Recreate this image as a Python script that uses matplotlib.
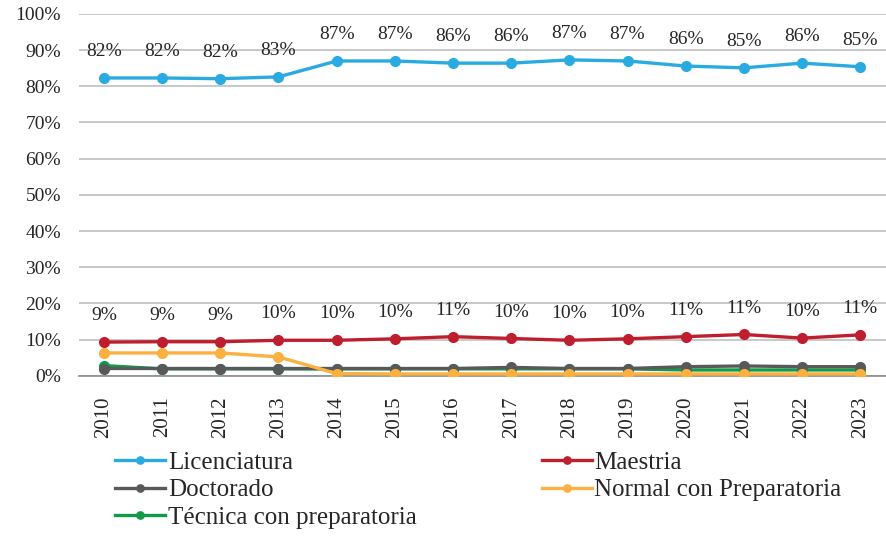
import matplotlib.pyplot as plt

plt.rcParams['font.family'] = ['Liberation Serif', 'DejaVu Serif']

years = ['2010', '2011', '2012', '2013', '2014', '2015', '2016',
         '2017', '2018', '2019', '2020', '2021', '2022', '2023']

licenciatura = [82.3, 82.3, 82.1, 82.6, 87.0, 87.0, 86.4, 86.4, 87.3, 87.0, 85.6, 85.1, 86.4, 85.4]
maestria = [9.3, 9.4, 9.4, 9.8, 9.8, 10.2, 10.8, 10.3, 9.8, 10.2, 10.8, 11.4, 10.4, 11.3]
doctorado = [2.0, 2.0, 2.0, 2.0, 2.0, 2.0, 2.0, 2.3, 2.0, 2.0, 2.5, 2.7, 2.5, 2.5]
normal = [6.3, 6.3, 6.3, 5.2, 0.6, 0.5, 0.5, 0.5, 0.5, 0.5, 0.5, 0.5, 0.5, 0.5]
tecnica = [2.8, 1.9, 1.9, 1.9, 1.9, 1.9, 1.9, 1.9, 1.9, 1.9, 1.6, 1.6, 1.6, 1.6]

c_lic = '#29abe2'
c_mae = '#be1e2d'
c_doc = '#58595b'
c_nor = '#fbb040'
c_tec = '#129a48'

fig = plt.figure(figsize=(8.87, 5.36), dpi=100)
ax = fig.add_axes([0.089, 0.299, 0.911, 0.675])

x = range(len(years))
kw = dict(lw=2.4, marker='o', markersize=7)
l_lic, = ax.plot(x, [v / 100 for v in licenciatura], color=c_lic, zorder=5, **kw)
l_mae, = ax.plot(x, [v / 100 for v in maestria], color=c_mae, zorder=5, **kw)
l_tec, = ax.plot(x, [v / 100 for v in tecnica], color=c_tec, zorder=3, **kw)
l_doc, = ax.plot(x, [v / 100 for v in doctorado], color=c_doc, zorder=4, **kw)
l_nor, = ax.plot(x, [v / 100 for v in normal], color=c_nor, zorder=5, **kw)

# data labels
for series in (licenciatura, maestria):
    for i, v in enumerate(series):
        ax.annotate(f"{round(v)}%", (i, v / 100), xytext=(0, 19),
                    textcoords='offset points', ha='center', va='center',
                    fontsize=14, color='#262626')

ax.set_xlim(-0.43, 13.46)
ax.set_ylim(0, 1.0)
ax.set_yticks([i / 10 for i in range(11)])
ax.set_yticklabels([f"{i * 10}%" for i in range(11)], fontsize=14, color='#262626')
ax.set_xticks(list(x))
ax.set_xticklabels(years, rotation=90, fontsize=15, color='#262626')
ax.tick_params(axis='y', length=0, pad=13)
ax.tick_params(axis='x', length=0, pad=15)
ax.grid(axis='y', color='#bfbfbf', lw=1.2)
ax.set_axisbelow(True)
for s in ['top', 'right', 'left']:
    ax.spines[s].set_visible(False)
ax.spines['bottom'].set_color('#8c8c8c')
ax.spines['bottom'].set_linewidth(1.2)

handles = [l_lic, l_doc, l_tec, l_mae, l_nor]
labels = ['Licenciatura', 'Doctorado', 'Técnica con preparatoria',
          'Maestria', 'Normal con Preparatoria']
leg = fig.legend(handles, labels, ncol=2, loc='upper left',
                 bbox_to_anchor=(0.13, 0.158), frameon=False, fontsize=18,
                 handlelength=2.0, handletextpad=0.1, columnspacing=5.0,
                 labelspacing=0.2, borderaxespad=0, borderpad=0,
                 markerscale=0.75)
for t in leg.get_texts():
    t.set_color('#262626')

fig.savefig('out.png', dpi=100)
